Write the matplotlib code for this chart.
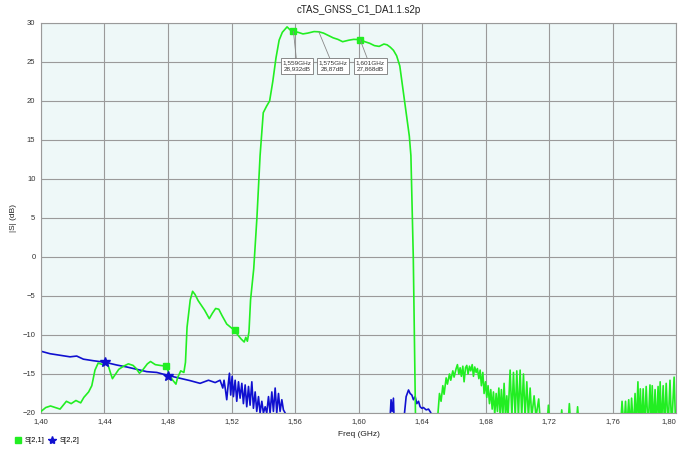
import matplotlib.pyplot as plt
import numpy as np

plt.rcParams['font.family'] = ['Liberation Sans', 'DejaVu Sans']

# S[2,1] trace (GHz, dB); points below -20 dB fall off the bottom of the plot
s21_freq = [
    1.400, 1.403, 1.406, 1.409, 1.412, 1.414, 1.416, 1.419, 1.422, 1.425,
    1.427, 1.430, 1.432, 1.434, 1.436, 1.439, 1.442, 1.444, 1.445, 1.447,
    1.449, 1.452, 1.455, 1.458, 1.460, 1.462, 1.464, 1.467, 1.469, 1.472,
    1.475, 1.479, 1.481, 1.483, 1.485, 1.486, 1.488, 1.490, 1.491, 1.492,
    1.494, 1.4955, 1.497, 1.499, 1.501, 1.503, 1.506, 1.508, 1.510, 1.512,
    1.514, 1.517, 1.520, 1.522, 1.524, 1.526, 1.528, 1.529, 1.530, 1.531,
    1.532, 1.534, 1.536, 1.538, 1.540, 1.542, 1.544, 1.546, 1.548, 1.550,
    1.552, 1.555, 1.557, 1.559, 1.562, 1.565, 1.568, 1.572, 1.575, 1.578,
    1.581, 1.584, 1.587, 1.590, 1.594, 1.597, 1.601, 1.604, 1.607, 1.610,
    1.613, 1.616, 1.618, 1.620, 1.622, 1.624, 1.626, 1.628, 1.630, 1.632,
    1.633, 1.6345, 1.6355, 1.636,
    1.6493, 1.6510, 1.6520, 1.6531, 1.6539, 1.6552, 1.6560, 1.6573, 1.6581,
    1.6594, 1.6602, 1.6615, 1.6623, 1.6632, 1.6640, 1.6648, 1.6657, 1.6665,
    1.6674, 1.6682, 1.6690, 1.6699, 1.6707, 1.6716, 1.6724, 1.6732, 1.6741,
    1.6749, 1.6758, 1.6766, 1.6774, 1.6783, 1.6791, 1.6800, 1.6808, 1.6816,
    1.6825, 1.6833, 1.6842, 1.6850, 1.6858, 1.6867, 1.6875, 1.6884, 1.6892,
    1.6900, 1.6909, 1.6917, 1.6926, 1.6934, 1.6942, 1.6955, 1.6966, 1.6976,
    1.6987, 1.6997, 1.7007, 1.7018, 1.7028, 1.7039, 1.7049, 1.7060, 1.7070,
    1.7081, 1.7091, 1.7106, 1.7118, 1.7135, 1.7148,
    1.7186, 1.7196, 1.7206, 1.7270, 1.7280, 1.7290, 1.7318, 1.7328, 1.7338,
    1.7370, 1.7380, 1.7390,
    1.7650, 1.7660, 1.7672, 1.7682, 1.7690, 1.7702, 1.7712, 1.7720, 1.7732,
    1.7742, 1.7750, 1.7760, 1.7767, 1.7775, 1.7784, 1.7793, 1.7802, 1.7812,
    1.7824, 1.7836, 1.7844, 1.7850, 1.7858, 1.7868, 1.7876, 1.7887, 1.7895,
    1.7900, 1.7908, 1.7919, 1.7928, 1.7938, 1.7950, 1.7962, 1.7972, 1.7988,
    1.7998,
]
s21_db = [
    -19.8, -19.3, -19.1, -19.3, -19.5, -19.0, -18.5, -18.8, -18.4, -18.7,
    -18.0, -17.3, -16.5, -14.5, -13.6, -13.8, -13.7, -15.0, -15.6, -15.0,
    -14.4, -14.0, -13.7, -13.9, -14.3, -14.9, -14.5, -13.7, -13.4, -13.8,
    -13.9, -14.0, -15.2, -15.8, -16.3, -15.5, -14.6, -14.8, -13.5, -9.0,
    -5.5, -4.4, -4.8, -5.6, -6.2, -6.8, -7.9, -7.2, -6.6, -6.7,
    -7.5, -8.6, -9.1, -9.4, -10.0, -10.5, -10.9, -10.3, -10.8, -9.6,
    -5.5, -1.5, 5.0, 13.0, 18.5, 19.3, 20.0, 22.5, 25.5, 27.8,
    28.8, 29.5, 29.1, 28.932, 28.8, 28.6, 28.7, 28.9, 28.87, 28.7,
    28.4, 28.1, 27.9, 27.6, 27.8, 27.9, 27.868, 27.6, 27.4, 27.1,
    27.0, 27.3, 27.2, 26.9, 26.5, 25.8, 24.5, 21.5, 18.5, 15.5,
    13.0, 0.0, -15.0, -22.0,
    -22.0, -17.5, -18.5, -16.5, -17.6, -15.5, -16.3, -15.0, -15.8,
    -14.6, -15.4, -14.3, -13.8, -15.0, -14.2, -15.3, -14.0, -16.0,
    -14.2, -13.9, -15.0, -14.0, -14.6, -13.8, -15.3, -14.1, -14.8,
    -14.3, -15.6, -14.5, -16.5, -14.8, -17.5, -16.0, -18.0, -16.5,
    -18.8, -17.0, -19.5, -17.3, -20.2, -17.5, -19.8, -16.8, -20.3,
    -17.0, -20.5, -16.2, -20.5, -17.8, -20.5, -14.5, -20.5, -14.8,
    -20.5, -14.6, -20.5, -14.5, -20.5, -15.0, -20.5, -16.0, -20.5,
    -16.8, -20.5, -17.8, -20.5, -18.2, -22.0,
    -22.0, -19.0, -22.0, -22.0, -19.6, -22.0, -22.0, -18.8, -22.0,
    -22.0, -19.2, -22.0,
    -22.0, -18.5, -22.0, -18.5, -22.0, -18.3, -22.0, -18.1, -22.0,
    -17.5, -22.0, -16.0, -22.0, -16.9, -22.0, -16.9, -22.0, -16.6,
    -22.0, -16.4, -22.0, -16.5, -22.0, -17.0, -22.0, -16.6, -22.0,
    -16.0, -22.0, -16.5, -22.0, -16.2, -22.0, -15.8, -22.0, -15.4,
    -22.0,
]

# S[2,2] trace
s22_freq = [
    1.4003, 1.4057, 1.4120, 1.4183, 1.4225, 1.4267, 1.4330, 1.4404, 1.4477,
    1.4540, 1.4603, 1.4666, 1.4729, 1.4803, 1.4876, 1.4939, 1.5002, 1.5055,
    1.5097, 1.5128, 1.5145, 1.5153, 1.5162, 1.5170, 1.5179, 1.5187, 1.5195,
    1.5204, 1.5212, 1.5223, 1.5233, 1.5244, 1.5254, 1.5265, 1.5275, 1.5286,
    1.5296, 1.5307, 1.5317, 1.5328, 1.5338, 1.5349, 1.5359, 1.5370, 1.5380,
    1.5391, 1.5401, 1.5412, 1.5422, 1.5433, 1.5443, 1.5454, 1.5464, 1.5475,
    1.5485, 1.5496, 1.5506, 1.5517, 1.5527, 1.5538, 1.5545,
    1.6195, 1.6205, 1.6212, 1.6220, 1.6226, 1.6280, 1.6300, 1.6315, 1.6325,
    1.6336, 1.6346, 1.6357, 1.6367, 1.6378, 1.6388, 1.6399, 1.6409, 1.6426,
    1.6441, 1.6455, 1.6462,
]
s22_db = [
    -12.1, -12.4, -12.6, -12.8, -12.7, -13.1, -13.3, -13.5, -13.85,
    -14.1, -14.4, -14.7, -14.8, -15.2, -15.55, -15.85, -16.2, -15.8,
    -16.1, -15.8, -16.8, -15.8, -17.05, -18.3, -16.4, -14.9, -17.7,
    -15.3, -17.9, -15.8, -18.5, -16.0, -18.1, -16.2, -18.8, -16.4,
    -19.2, -16.6, -19.0, -16.0, -19.4, -17.3, -19.8, -17.9, -20.0,
    -18.5, -20.0, -19.2, -20.0, -17.9, -20.0, -17.3, -19.8, -16.8,
    -20.0, -17.5, -19.8, -18.3, -19.6, -20.0, -22.0,
    -22.0, -18.3, -19.8, -18.1, -22.0, -22.0, -17.9, -17.05, -17.5,
    -17.7, -18.3, -17.9, -18.8, -18.5, -19.2, -19.4, -19.3, -19.6,
    -19.5, -19.95, -22.0,
]

# marker positions on each trace
s21_mark_freq = [1.479, 1.522, 1.559, 1.601]
s22_mark_freq = [1.4404, 1.4803]

# readouts (GHz, dB) and where their boxes sit
readout_freq = [1.559, 1.575, 1.601]
readout_db = [28.932, 28.87, 27.868]
readout_text = ['1,559GHz\n28,932dB', '1,575GHz\n28,87dB', '1,601GHz\n27,868dB']
readout_box_freq = [1.5613, 1.5839, 1.6073]

x_ticks = [1.40, 1.44, 1.48, 1.52, 1.56, 1.60, 1.64, 1.68, 1.72, 1.76, 1.80]
y_ticks = [-20, -15, -10, -5, 0, 5, 10, 15, 20, 25, 30]

green = '#22ee22'
blue = '#1010d0'

fig = plt.figure(figsize=(6.81, 4.49), dpi=100)
ax = fig.add_axes([0.0602, 0.0802, 0.9325, 0.8686])
ax.set_facecolor('#eef8f8')

ax.plot(s21_freq, s21_db, color=green, lw=1.2, zorder=3)
ax.plot(s22_freq, s22_db, color=blue, lw=1.2, zorder=2)

s21_f = np.array(s21_freq)
s21_v = np.array(s21_db)
s22_f = np.array(s22_freq)
s22_v = np.array(s22_db)
ax.plot(s21_mark_freq, np.interp(s21_mark_freq, s21_f, s21_v), 's',
        color=green, ms=5, zorder=4)
ax.plot(s22_mark_freq, np.interp(s22_mark_freq, s22_f, s22_v), '*',
        color=blue, ms=7, zorder=4)

for f, v, txt, bf in zip(readout_freq, readout_db, readout_text, readout_box_freq):
    ax.annotate(txt, xy=(f, v), xytext=(bf, 24.5), fontsize=4.6,
                ha='center', va='center', color='#333333', linespacing=1.35,
                bbox=dict(boxstyle='square,pad=0.3', fc='white', ec='#777777', lw=0.6),
                arrowprops=dict(arrowstyle='-', color='#888888', lw=0.6,
                                shrinkA=0, shrinkB=0),
                zorder=5)

ax.set_xlim(1.40, 1.80)
ax.set_ylim(-20, 30)
ax.set_xticks(x_ticks)
ax.set_xticklabels([f'{t:.2f}'.replace('.', ',') for t in x_ticks])
# keep the last frequency label inside the figure
ax.get_xticklabels()[-1].set_horizontalalignment('right')
ax.set_yticks(y_ticks)
ax.tick_params(labelsize=5.5, length=0, pad=4, colors='#333333')
ax.grid(True, color='#9a9a9a', lw=0.8)
for sp in ax.spines.values():
    sp.set_color('#9a9a9a')
    sp.set_linewidth(0.8)

ax.set_title('cTAS_GNSS_C1_DA1.1.s2p', fontsize=7, pad=7, color='#222222')
ax.set_xlabel('Freq (GHz)', fontsize=6, labelpad=4, color='#222222')
ax.set_ylabel('|S| (dB)', fontsize=6, labelpad=4, color='#222222')

handles = [
    plt.Line2D([], [], color=green, marker='s', ls='none', ms=4.5),
    plt.Line2D([], [], color=blue, marker='*', ls='none', ms=6),
]
fig.legend(handles, ['S[2,1]', 'S[2,2]'], loc='lower left',
           bbox_to_anchor=(0.012, -0.005), ncol=2, frameon=False, fontsize=5.5,
           handletextpad=0.5, columnspacing=0.6, handlelength=0.8)

fig.savefig('out.png', dpi=100)
